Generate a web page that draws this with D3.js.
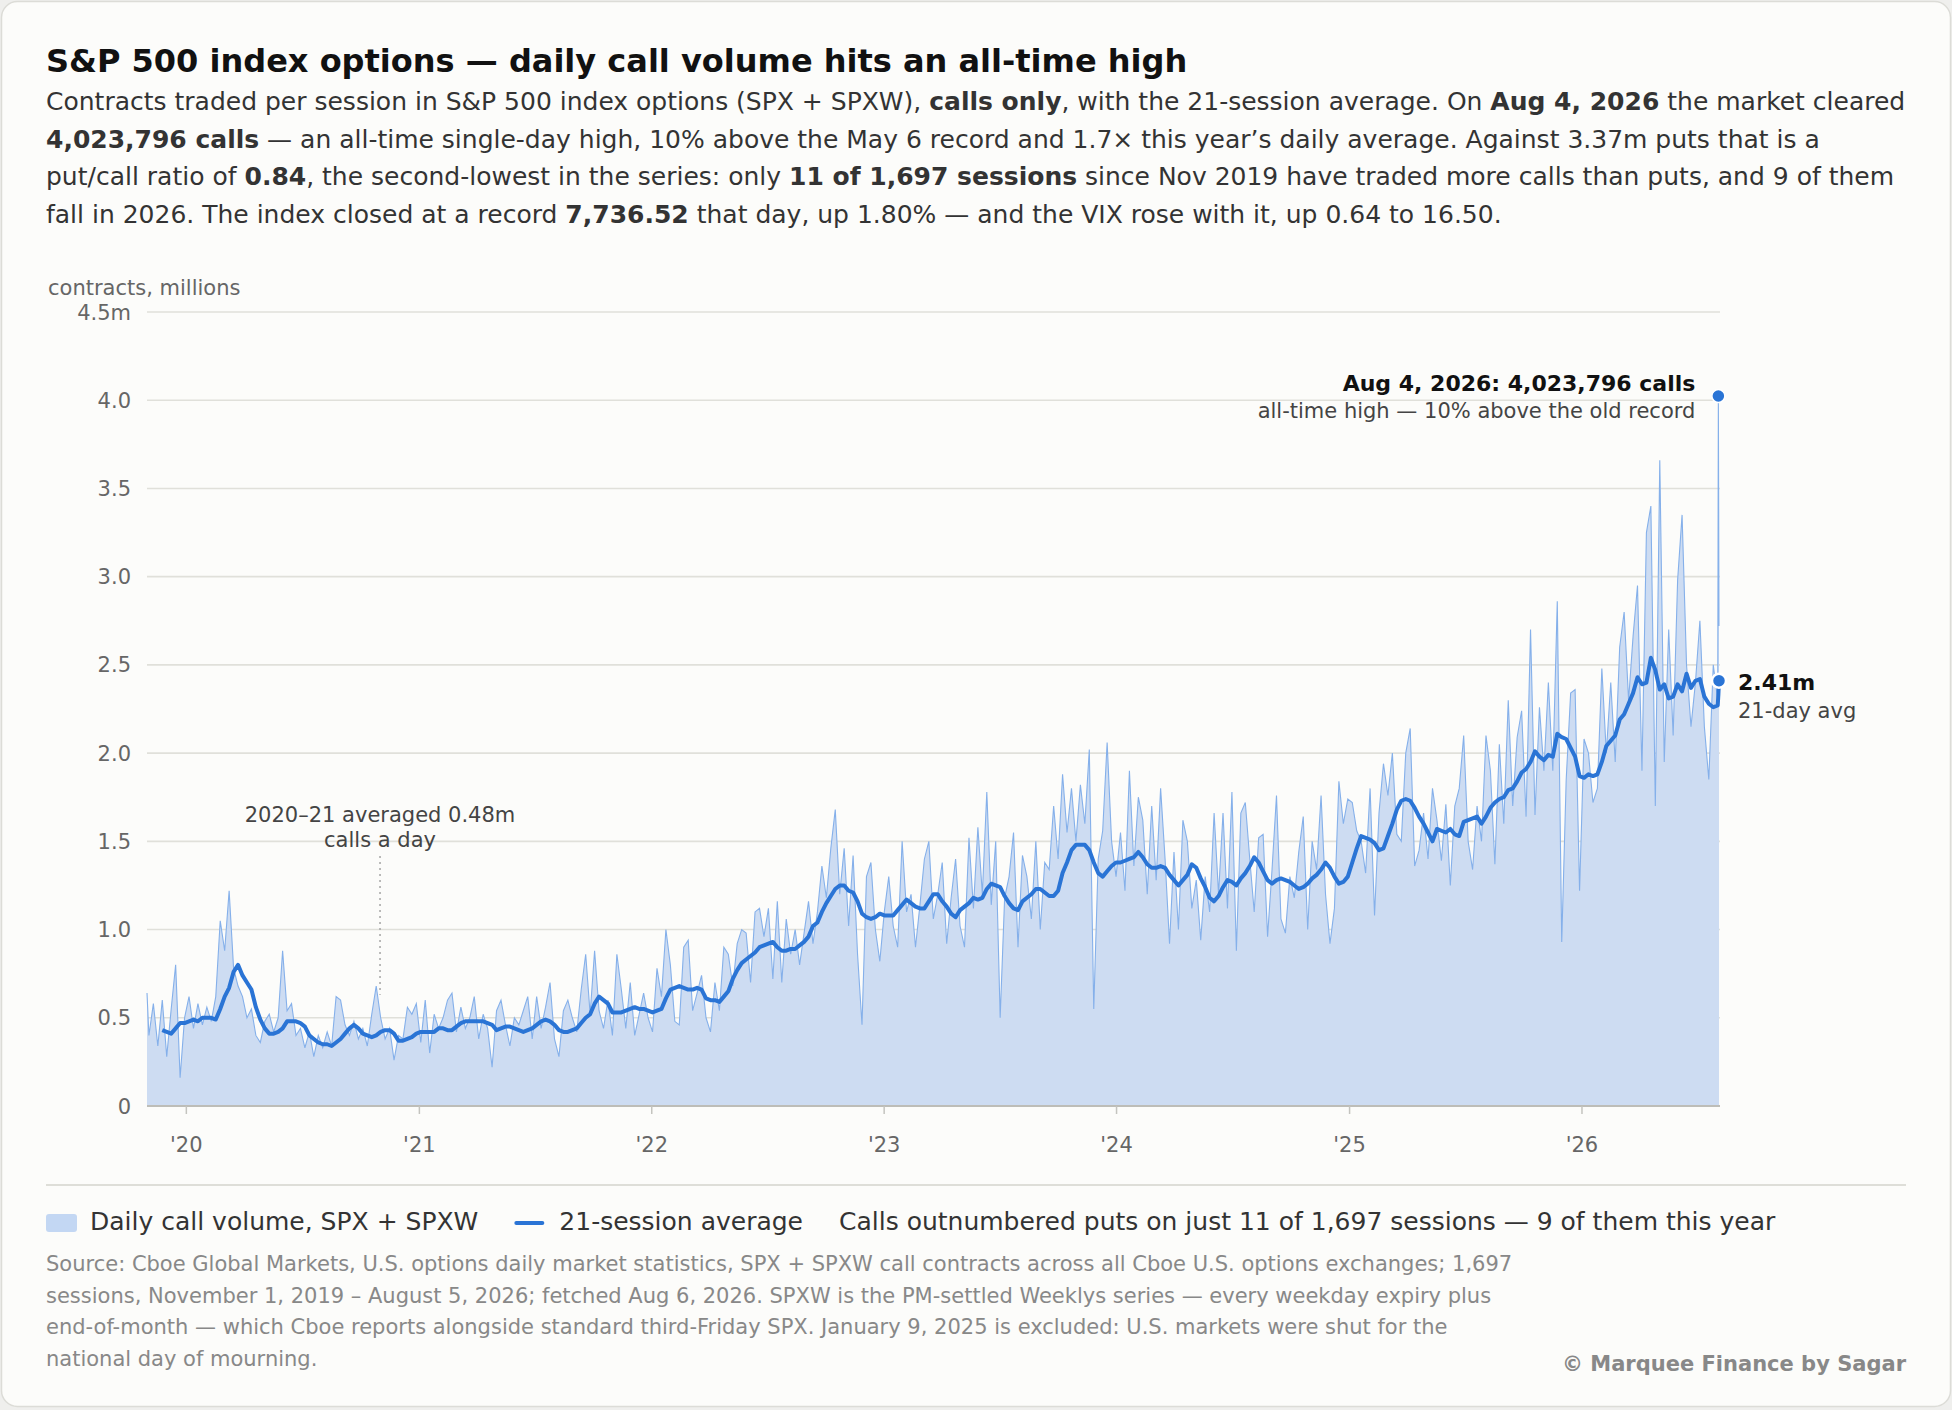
<!DOCTYPE html>
<html>
<head>
<meta charset="utf-8">
<script src="https://cdn.jsdelivr.net/npm/d3@7"></script>
<style>
  html, body { margin: 0; padding: 0; background: #efefed; }
  svg { display: block; font-family: "DejaVu Sans", sans-serif; }
</style>
</head>
<body>
<svg id="chart" width="1952" height="1410"></svg>
<script>
// weekly readings (Monday of each week), millions of call contracts
const firstDayVol = 0.64; // Fri Nov 1, 2019
const vol2019 = [0.40, 0.58, 0.34, 0.60, 0.28, 0.55, 0.80, 0.16, 0.50];
const vol2020 = [0.62, 0.44, 0.58, 0.46, 0.56, 0.48, 0.62, 1.05, 0.88, 1.22,
                 0.78, 0.68, 0.62, 0.50, 0.55, 0.40, 0.36, 0.48, 0.52, 0.42,
                 0.50, 0.88, 0.54, 0.58, 0.40, 0.44, 0.33, 0.42, 0.28, 0.40,
                 0.33, 0.42, 0.34, 0.62, 0.60, 0.46, 0.40, 0.48, 0.38, 0.44,
                 0.34, 0.52, 0.68, 0.50, 0.38, 0.44, 0.26, 0.40, 0.38, 0.56,
                 0.52, 0.58];
const vol2021 = [0.36, 0.60, 0.30, 0.52, 0.44, 0.50, 0.60, 0.64, 0.42, 0.56,
                 0.44, 0.50, 0.62, 0.38, 0.52, 0.44, 0.22, 0.54, 0.60, 0.46,
                 0.34, 0.50, 0.46, 0.54, 0.62, 0.38, 0.62, 0.44, 0.56, 0.70,
                 0.38, 0.28, 0.54, 0.60, 0.50, 0.42, 0.66, 0.86, 0.52, 0.88,
                 0.54, 0.44, 0.60, 0.40, 0.86, 0.66, 0.44, 0.70, 0.40, 0.52,
                 0.64, 0.50];
const vol2022 = [0.42, 0.78, 0.62, 1.00, 0.80, 0.48, 0.46, 0.90, 0.94, 0.54,
                 0.64, 0.74, 0.50, 0.42, 0.70, 0.54, 0.90, 0.86, 0.68, 0.92,
                 1.00, 0.98, 0.70, 1.10, 1.12, 0.96, 1.12, 0.72, 1.16, 0.70,
                 1.06, 0.86, 1.00, 0.80, 0.98, 1.16, 0.92, 1.10, 1.36, 1.18,
                 1.46, 1.68, 1.20, 1.46, 1.02, 1.42, 0.86, 0.46, 1.30, 1.38,
                 1.00, 0.82];
const vol2023 = [1.10, 1.30, 1.02, 0.90, 1.50, 1.10, 1.20, 0.90, 1.14, 1.40,
                 1.50, 1.06, 1.20, 1.38, 0.92, 1.18, 1.40, 1.02, 0.90, 1.52,
                 1.12, 1.58, 1.20, 1.78, 1.14, 1.50, 0.50, 1.18, 1.30, 1.55,
                 0.90, 1.42, 1.30, 1.06, 1.50, 1.00, 1.38, 1.34, 1.70, 1.40,
                 1.88, 1.55, 1.80, 1.50, 1.82, 1.60, 2.02, 0.55, 1.40, 1.56,
                 2.06, 1.50];
const vol2024 = [1.30, 1.55, 1.22, 1.90, 1.36, 1.75, 1.62, 1.20, 1.70, 1.28,
                 1.80, 1.40, 0.92, 1.44, 1.00, 1.62, 1.50, 1.12, 1.28, 0.94,
                 1.30, 1.10, 1.66, 1.20, 1.66, 1.12, 1.78, 0.88, 1.66, 1.72,
                 1.40, 1.10, 1.52, 1.54, 0.96, 1.34, 1.76, 1.06, 0.98, 1.30,
                 1.18, 1.44, 1.64, 1.00, 1.50, 1.34, 1.76, 1.20, 0.92, 1.12,
                 1.84, 1.60, 1.74];
const vol2025 = [1.72, 1.56, 1.50, 1.32, 1.80, 1.08, 1.66, 1.94, 1.76, 2.00,
                 1.54, 1.50, 2.00, 2.14, 1.36, 1.45, 1.66, 1.40, 1.80, 1.62,
                 1.39, 1.71, 1.25, 1.70, 1.80, 2.10, 1.50, 1.34, 1.70, 1.50,
                 2.10, 1.90, 1.37, 2.05, 1.60, 2.30, 1.70, 2.09, 2.24, 1.64,
                 2.70, 1.65, 2.26, 1.90, 2.40, 1.90, 2.86, 0.93, 1.85, 2.34,
                 2.36, 1.22];
const vol2026 = [2.08, 2.00, 1.72, 1.80, 2.48, 2.00, 2.40, 1.95, 2.60, 2.80,
                 2.30, 2.66, 2.95, 1.90, 3.25, 3.40, 1.70, 3.66, 1.95, 2.70,
                 2.10, 2.98, 3.35, 2.50, 2.15, 2.40, 2.75, 2.15, 1.85, 2.50,
                 2.30];

// 21-session average at the same weekly dates
const avg2019 = [null, null, null, 0.43, 0.42, 0.41, 0.44, 0.47, 0.47];
const avg2020 = [0.48, 0.49, 0.48, 0.50, 0.50, 0.50, 0.49, 0.55, 0.62, 0.67,
                 0.76, 0.80, 0.74, 0.70, 0.66, 0.56, 0.49, 0.44, 0.41, 0.41,
                 0.42, 0.44, 0.48, 0.48, 0.48, 0.47, 0.45, 0.40, 0.38, 0.36,
                 0.35, 0.35, 0.34, 0.36, 0.38, 0.41, 0.44, 0.46, 0.44, 0.41,
                 0.40, 0.39, 0.40, 0.42, 0.43, 0.43, 0.41, 0.37, 0.37, 0.38,
                 0.39, 0.41];
const avg2021 = [0.42, 0.42, 0.42, 0.42, 0.44, 0.44, 0.43, 0.43, 0.45, 0.47,
                 0.48, 0.48, 0.48, 0.48, 0.48, 0.47, 0.46, 0.43, 0.44, 0.45,
                 0.45, 0.44, 0.43, 0.42, 0.43, 0.44, 0.46, 0.48, 0.49, 0.48,
                 0.46, 0.43, 0.42, 0.42, 0.43, 0.44, 0.47, 0.50, 0.52, 0.58,
                 0.62, 0.60, 0.58, 0.53, 0.53, 0.53, 0.54, 0.55, 0.56, 0.55,
                 0.55, 0.54];
const avg2022 = [0.53, 0.54, 0.55, 0.61, 0.66, 0.67, 0.68, 0.67, 0.66, 0.66,
                 0.67, 0.66, 0.61, 0.60, 0.60, 0.59, 0.62, 0.65, 0.72, 0.77,
                 0.81, 0.83, 0.85, 0.87, 0.90, 0.91, 0.92, 0.93, 0.90, 0.88,
                 0.88, 0.89, 0.89, 0.91, 0.93, 0.96, 1.02, 1.04, 1.10, 1.15,
                 1.19, 1.23, 1.25, 1.25, 1.22, 1.21, 1.16, 1.09, 1.07, 1.06,
                 1.07, 1.09];
const avg2023 = [1.08, 1.08, 1.08, 1.11, 1.14, 1.17, 1.15, 1.13, 1.12, 1.12,
                 1.16, 1.20, 1.20, 1.16, 1.13, 1.09, 1.07, 1.11, 1.13, 1.15,
                 1.18, 1.17, 1.18, 1.23, 1.26, 1.25, 1.24, 1.19, 1.15, 1.12,
                 1.11, 1.16, 1.18, 1.20, 1.23, 1.23, 1.21, 1.19, 1.19, 1.22,
                 1.32, 1.38, 1.45, 1.48, 1.48, 1.48, 1.45, 1.38, 1.32, 1.30,
                 1.33, 1.36];
const avg2024 = [1.38, 1.38, 1.39, 1.40, 1.41, 1.44, 1.41, 1.37, 1.35, 1.35,
                 1.36, 1.35, 1.31, 1.28, 1.25, 1.28, 1.31, 1.37, 1.35, 1.29,
                 1.24, 1.18, 1.16, 1.19, 1.24, 1.28, 1.27, 1.25, 1.29, 1.32,
                 1.36, 1.41, 1.38, 1.33, 1.28, 1.26, 1.28, 1.29, 1.28, 1.27,
                 1.25, 1.23, 1.24, 1.26, 1.29, 1.31, 1.34, 1.38, 1.35, 1.30,
                 1.26, 1.27, 1.30];
const avg2025 = [1.38, 1.46, 1.53, 1.52, 1.51, 1.49, 1.45, 1.46, 1.53, 1.60,
                 1.68, 1.73, 1.74, 1.73, 1.69, 1.64, 1.60, 1.55, 1.50, 1.57,
                 1.56, 1.55, 1.57, 1.54, 1.53, 1.61, 1.62, 1.63, 1.64, 1.60,
                 1.64, 1.69, 1.72, 1.74, 1.75, 1.79, 1.80, 1.84, 1.89, 1.91,
                 1.95, 2.01, 1.98, 1.96, 1.99, 1.98, 2.11, 2.09, 2.08, 2.03,
                 1.98, 1.87];
const avg2026 = [1.86, 1.88, 1.87, 1.88, 1.95, 2.04, 2.07, 2.10, 2.19, 2.22,
                 2.28, 2.34, 2.43, 2.39, 2.40, 2.54, 2.47, 2.36, 2.39, 2.31,
                 2.32, 2.39, 2.35, 2.45, 2.37, 2.41, 2.42, 2.32, 2.28, 2.26,
                 2.27];

// the last two sessions, daily
const lastDays = ["2026-08-04", "2026-08-05"];
const lastVol = [4.023796, 2.72];
const lastAvg = [2.33, 2.41];

const yTicks = [0, 0.5, 1.0, 1.5, 2.0, 2.5, 3.0, 3.5, 4.0, 4.5];
const xTickYears = [2020, 2021, 2022, 2023, 2024, 2025, 2026];

const title = "S&P 500 index options — daily call volume hits an all-time high";
const subtitle = [
  [["Contracts traded per session in S&P 500 index options (SPX + SPXW), ", 0], ["calls only", 1],
   [", with the 21-session average. On ", 0], ["Aug 4, 2026", 1], [" the market cleared", 0]],
  [["4,023,796 calls", 1], [" — an all-time single-day high, 10% above the May 6 record and 1.7× this year’s daily average. Against 3.37m puts that is a", 0]],
  [["put/call ratio of ", 0], ["0.84", 1], [", the second-lowest in the series: only ", 0], ["11 of 1,697 sessions", 1],
   [" since Nov 2019 have traded more calls than puts, and 9 of them", 0]],
  [["fall in 2026. The index closed at a record ", 0], ["7,736.52", 1], [" that day, up 1.80% — and the VIX rose with it, up 0.64 to 16.50.", 0]]
];
const legendItems = ["Daily call volume, SPX + SPXW", "21-session average",
  "Calls outnumbered puts on just 11 of 1,697 sessions — 9 of them this year"];
const sourceLines = [
  "Source: Cboe Global Markets, U.S. options daily market statistics, SPX + SPXW call contracts across all Cboe U.S. options exchanges; 1,697",
  "sessions, November 1, 2019 – August 5, 2026; fetched Aug 6, 2026. SPXW is the PM-settled Weeklys series — every weekday expiry plus",
  "end-of-month — which Cboe reports alongside standard third-Friday SPX. January 9, 2025 is excluded: U.S. markets were shut for the",
  "national day of mourning."
];

// ---- build rows
const parse = d3.timeParse("%Y-%m-%d");
const weeklyVol = [].concat(vol2019, vol2020, vol2021, vol2022, vol2023, vol2024, vol2025, vol2026);
const weeklyAvg = [].concat(avg2019, avg2020, avg2021, avg2022, avg2023, avg2024, avg2025, avg2026);
const firstMonday = new Date(2019, 10, 4);

let rows = [{ date: new Date(2019, 10, 1), vol: firstDayVol, avg: null }];
weeklyVol.forEach((v, i) => {
  rows.push({ date: d3.timeMonday.offset(firstMonday, i), vol: v, avg: weeklyAvg[i] });
});
lastDays.forEach((s, i) => rows.push({ date: parse(s), vol: lastVol[i], avg: lastAvg[i] }));

const svg = d3.select("#chart");
const W = 1952, H = 1410;
const plotL = 147, plotR = 1719, plotT = 312, plotB = 1106;

svg.append("rect")
  .attr("x", 1.5).attr("y", 1.5).attr("width", W - 3).attr("height", H - 5)
  .attr("rx", 16).attr("fill", "#fcfcfa").attr("stroke", "#dcdcd7").attr("stroke-width", 1.5);

const x = d3.scaleTime()
  .domain([new Date(2019, 10, 1), parse("2026-08-05")])
  .range([plotL, plotR]);
const y = d3.scaleLinear().domain([0, 4.5]).range([plotB, plotT]);

// title + subtitle
svg.append("text").attr("x", 46).attr("y", 72)
  .attr("font-size", 32).attr("font-weight", "bold").attr("fill", "#111")
  .text(title);

subtitle.forEach((line, i) => {
  const t = svg.append("text").attr("x", 46).attr("y", 110 + i * 37.5)
    .attr("font-size", 25).attr("fill", "#333");
  line.forEach(seg => {
    t.append("tspan").attr("font-weight", seg[1] ? "bold" : null).text(seg[0]);
  });
});

svg.append("text").attr("x", 48).attr("y", 295)
  .attr("font-size", 21).attr("fill", "#666").text("contracts, millions");

// gridlines + y labels
const grid = svg.append("g");
grid.selectAll("line").data(yTicks.filter(d => d > 0)).enter().append("line")
  .attr("x1", plotL).attr("x2", plotR + 1)
  .attr("y1", d => y(d)).attr("y2", d => y(d))
  .attr("stroke", "#e0e0da").attr("stroke-width", 1.6);

svg.append("g").selectAll("text").data(yTicks).enter().append("text")
  .attr("x", 131).attr("y", d => y(d)).attr("dy", "0.36em")
  .attr("text-anchor", "end").attr("font-size", 21).attr("fill", "#666")
  .text(d => d === 0 ? "0" : (d === 4.5 ? "4.5m" : d.toFixed(1)));

// area + daily line
const area = d3.area().x(d => x(d.date)).y0(y(0)).y1(d => y(d.vol));
const dailyLine = d3.line().x(d => x(d.date)).y(d => y(d.vol));
const avgLine = d3.line().defined(d => d.avg != null).x(d => x(d.date)).y(d => y(d.avg));

svg.append("path").datum(rows).attr("d", area).attr("fill", "#cddcf2");
svg.append("path").datum(rows).attr("d", dailyLine)
  .attr("fill", "none").attr("stroke", "#85b0ea").attr("stroke-width", 1.1);

// x axis
const xAxis = d3.axisBottom(x)
  .tickValues(xTickYears.map(yr => new Date(yr, 0, 1)))
  .tickFormat(d3.timeFormat("'%y"))
  .tickSize(8).tickPadding(23);
const gx = svg.append("g").attr("transform", `translate(0,${plotB})`).call(xAxis);
gx.select(".domain").attr("stroke", "#bdbdb8").attr("stroke-width", 2)
  .attr("d", `M${plotL},0H${plotR + 1}`);
gx.selectAll(".tick line").attr("stroke", "#c4c4bf").attr("stroke-width", 1.5);
gx.selectAll(".tick text").attr("font-size", 21).attr("fill", "#666")
  .attr("font-family", "DejaVu Sans, sans-serif");

// 21-session average
svg.append("path").datum(rows).attr("d", avgLine)
  .attr("fill", "none").attr("stroke", "#2a74d5").attr("stroke-width", 4)
  .attr("stroke-linejoin", "round");

// 2020-21 note
const noteX = x(new Date(2020, 10, 1));
svg.append("line").attr("x1", noteX).attr("x2", noteX).attr("y1", 856).attr("y2", y(0.63))
  .attr("stroke", "#aaa").attr("stroke-width", 1.6).attr("stroke-dasharray", "2,4");
svg.append("text").attr("x", noteX).attr("y", 822).attr("text-anchor", "middle")
  .attr("font-size", 21).attr("fill", "#444").text("2020–21 averaged 0.48m");
svg.append("text").attr("x", noteX).attr("y", 847).attr("text-anchor", "middle")
  .attr("font-size", 21).attr("fill", "#444").text("calls a day");

// record dot + label
const rec = rows[rows.length - 2];
const last = rows[rows.length - 1];
svg.append("circle").attr("cx", x(rec.date)).attr("cy", y(rec.vol)).attr("r", 6.5)
  .attr("fill", "#2a74d5").attr("stroke", "#fff").attr("stroke-width", 1.5);
svg.append("text").attr("x", x(rec.date) - 23).attr("y", 391).attr("text-anchor", "end")
  .attr("font-size", 22).attr("font-weight", "bold").attr("fill", "#111")
  .text("Aug 4, 2026: 4,023,796 calls");
svg.append("text").attr("x", x(rec.date) - 23).attr("y", 418).attr("text-anchor", "end")
  .attr("font-size", 21).attr("fill", "#444")
  .text("all-time high — 10% above the old record");

// latest average dot + label
svg.append("circle").attr("cx", x(last.date)).attr("cy", y(last.avg)).attr("r", 7)
  .attr("fill", "#2a74d5").attr("stroke", "#fff").attr("stroke-width", 2.5);
svg.append("text").attr("x", x(last.date) + 19).attr("y", y(last.avg) + 9)
  .attr("font-size", 22).attr("font-weight", "bold").attr("fill", "#111")
  .text(d3.format(".2f")(last.avg) + "m");
svg.append("text").attr("x", x(last.date) + 19).attr("y", y(last.avg) + 37)
  .attr("font-size", 21).attr("fill", "#444").text("21-day avg");

// separator
svg.append("line").attr("x1", 46).attr("x2", 1906).attr("y1", 1185).attr("y2", 1185)
  .attr("stroke", "#deded8").attr("stroke-width", 2);

// legend
const lg = svg.append("g");
let lx = 46;
lg.append("rect").attr("x", lx).attr("y", 1214).attr("width", 31).attr("height", 18)
  .attr("rx", 3).attr("fill", "#c3d7f3");
lx += 44;
let t0 = lg.append("text").attr("x", lx).attr("y", 1230).attr("font-size", 25)
  .attr("fill", "#333").text(legendItems[0]);
lx += t0.node().getComputedTextLength() + 38;
lg.append("line").attr("x1", lx).attr("x2", lx + 26).attr("y1", 1223).attr("y2", 1223)
  .attr("stroke", "#2a74d5").attr("stroke-width", 4).attr("stroke-linecap", "round");
lx += 43;
let t1 = lg.append("text").attr("x", lx).attr("y", 1230).attr("font-size", 25)
  .attr("fill", "#333").text(legendItems[1]);
lx += t1.node().getComputedTextLength() + 36;
lg.append("text").attr("x", lx).attr("y", 1230).attr("font-size", 25)
  .attr("fill", "#333").text(legendItems[2]);

// source
sourceLines.forEach((s, i) => {
  svg.append("text").attr("x", 46).attr("y", 1271 + i * 31.5)
    .attr("font-size", 21).attr("fill", "#888").text(s);
});
svg.append("text").attr("x", 1906).attr("y", 1371).attr("text-anchor", "end")
  .attr("font-size", 21).attr("font-weight", "bold").attr("fill", "#888")
  .text("© Marquee Finance by Sagar");
</script>
</body>
</html>
